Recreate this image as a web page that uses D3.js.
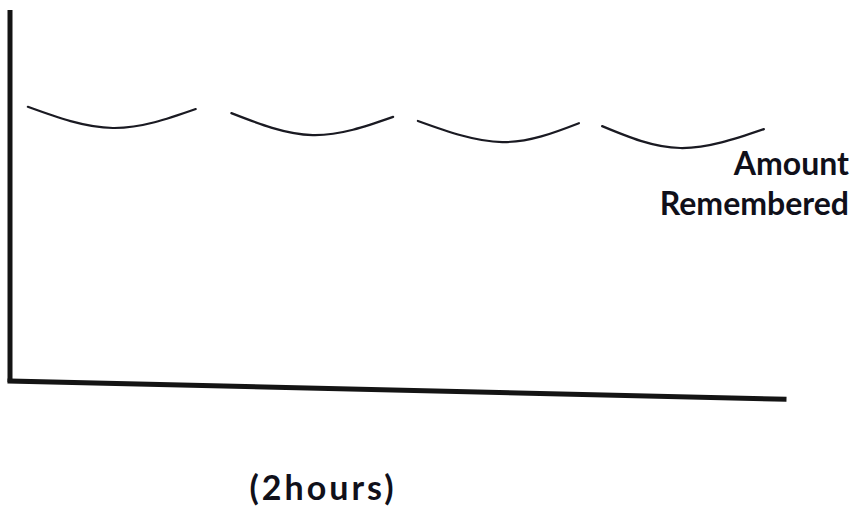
<!DOCTYPE html>
<html>
<head>
<meta charset="utf-8">
<script src="https://cdn.jsdelivr.net/npm/d3@7"></script>
<style>
  body { margin: 0; background: #fff; }
  svg { display: block; }
  .label { font-family: Lato, "Open Sans", sans-serif; font-weight: 700; fill: #10101a; }
</style>
</head>
<body>
<div id="chart"></div>
<script>
// hand-drawn style sketch: four dips of "amount remembered" over time
const segments = ['s1', 's2', 's3', 's4'];
const segStart = [[2.3, 73.9], [28.6, 72.2], [52.7, 70.1], [76.5, 68.7]];
const segLow   = [[13.3, 68.2], [39.1, 66.3], [63.6, 64.4], [86.6, 62.8]];
const segEnd   = [[24.0, 73.3], [49.5, 71.2], [73.5, 69.5], [97.4, 67.9]];

// axis lines as drawn (the x axis slopes a little)
const yAxisPts = [[0, -0.3], [0, 100]];
const xAxisPts = [[0, 0], [100, -4.9]];

const labelLines = ['Amount', 'Remembered'];
const xLabel = '(2hours)';

const width = 855, height = 516;

const svg = d3.select('#chart').append('svg')
    .attr('width', width)
    .attr('height', height);

const xScale = d3.scaleLinear().domain([0, 100]).range([10, 784]);
const yScale = d3.scaleLinear().domain([0, 100]).range([381, 10]);

const line = d3.line()
    .x(d => xScale(d[0]))
    .y(d => yScale(d[1]));

// axes
svg.append('path')
    .attr('d', line(yAxisPts))
    .attr('fill', 'none')
    .attr('stroke', '#141414')
    .attr('stroke-width', 5);
svg.append('path')
    .attr('d', line(xAxisPts))
    .attr('fill', 'none')
    .attr('stroke', '#141414')
    .attr('stroke-width', 5)
    .attr('stroke-linecap', 'square');

// curves
const curveGen = d3.line()
    .x(d => xScale(d[0]))
    .y(d => yScale(d[1]))
    .curve(d3.curveNatural);

svg.append('g').selectAll('path')
    .data(segments)
    .join('path')
    .attr('d', (d, i) => curveGen([segStart[i], segLow[i], segEnd[i]]))
    .attr('fill', 'none')
    .attr('stroke', '#1a1a22')
    .attr('stroke-width', 2.2)
    .attr('stroke-linecap', 'round');

// labels
svg.append('g').selectAll('text')
    .data(labelLines)
    .join('text')
    .classed('label', true)
    .attr('x', 849)
    .attr('y', (d, i) => 175 + i * 40)
    .attr('text-anchor', 'end')
    .style('font-size', '32px')
    .text(d => d);

svg.append('text')
    .classed('label', true)
    .attr('x', 323)
    .attr('y', 500)
    .attr('text-anchor', 'middle')
    .style('font-size', '34px')
    .style('letter-spacing', '3px')
    .text(xLabel);
</script>
</body>
</html>
